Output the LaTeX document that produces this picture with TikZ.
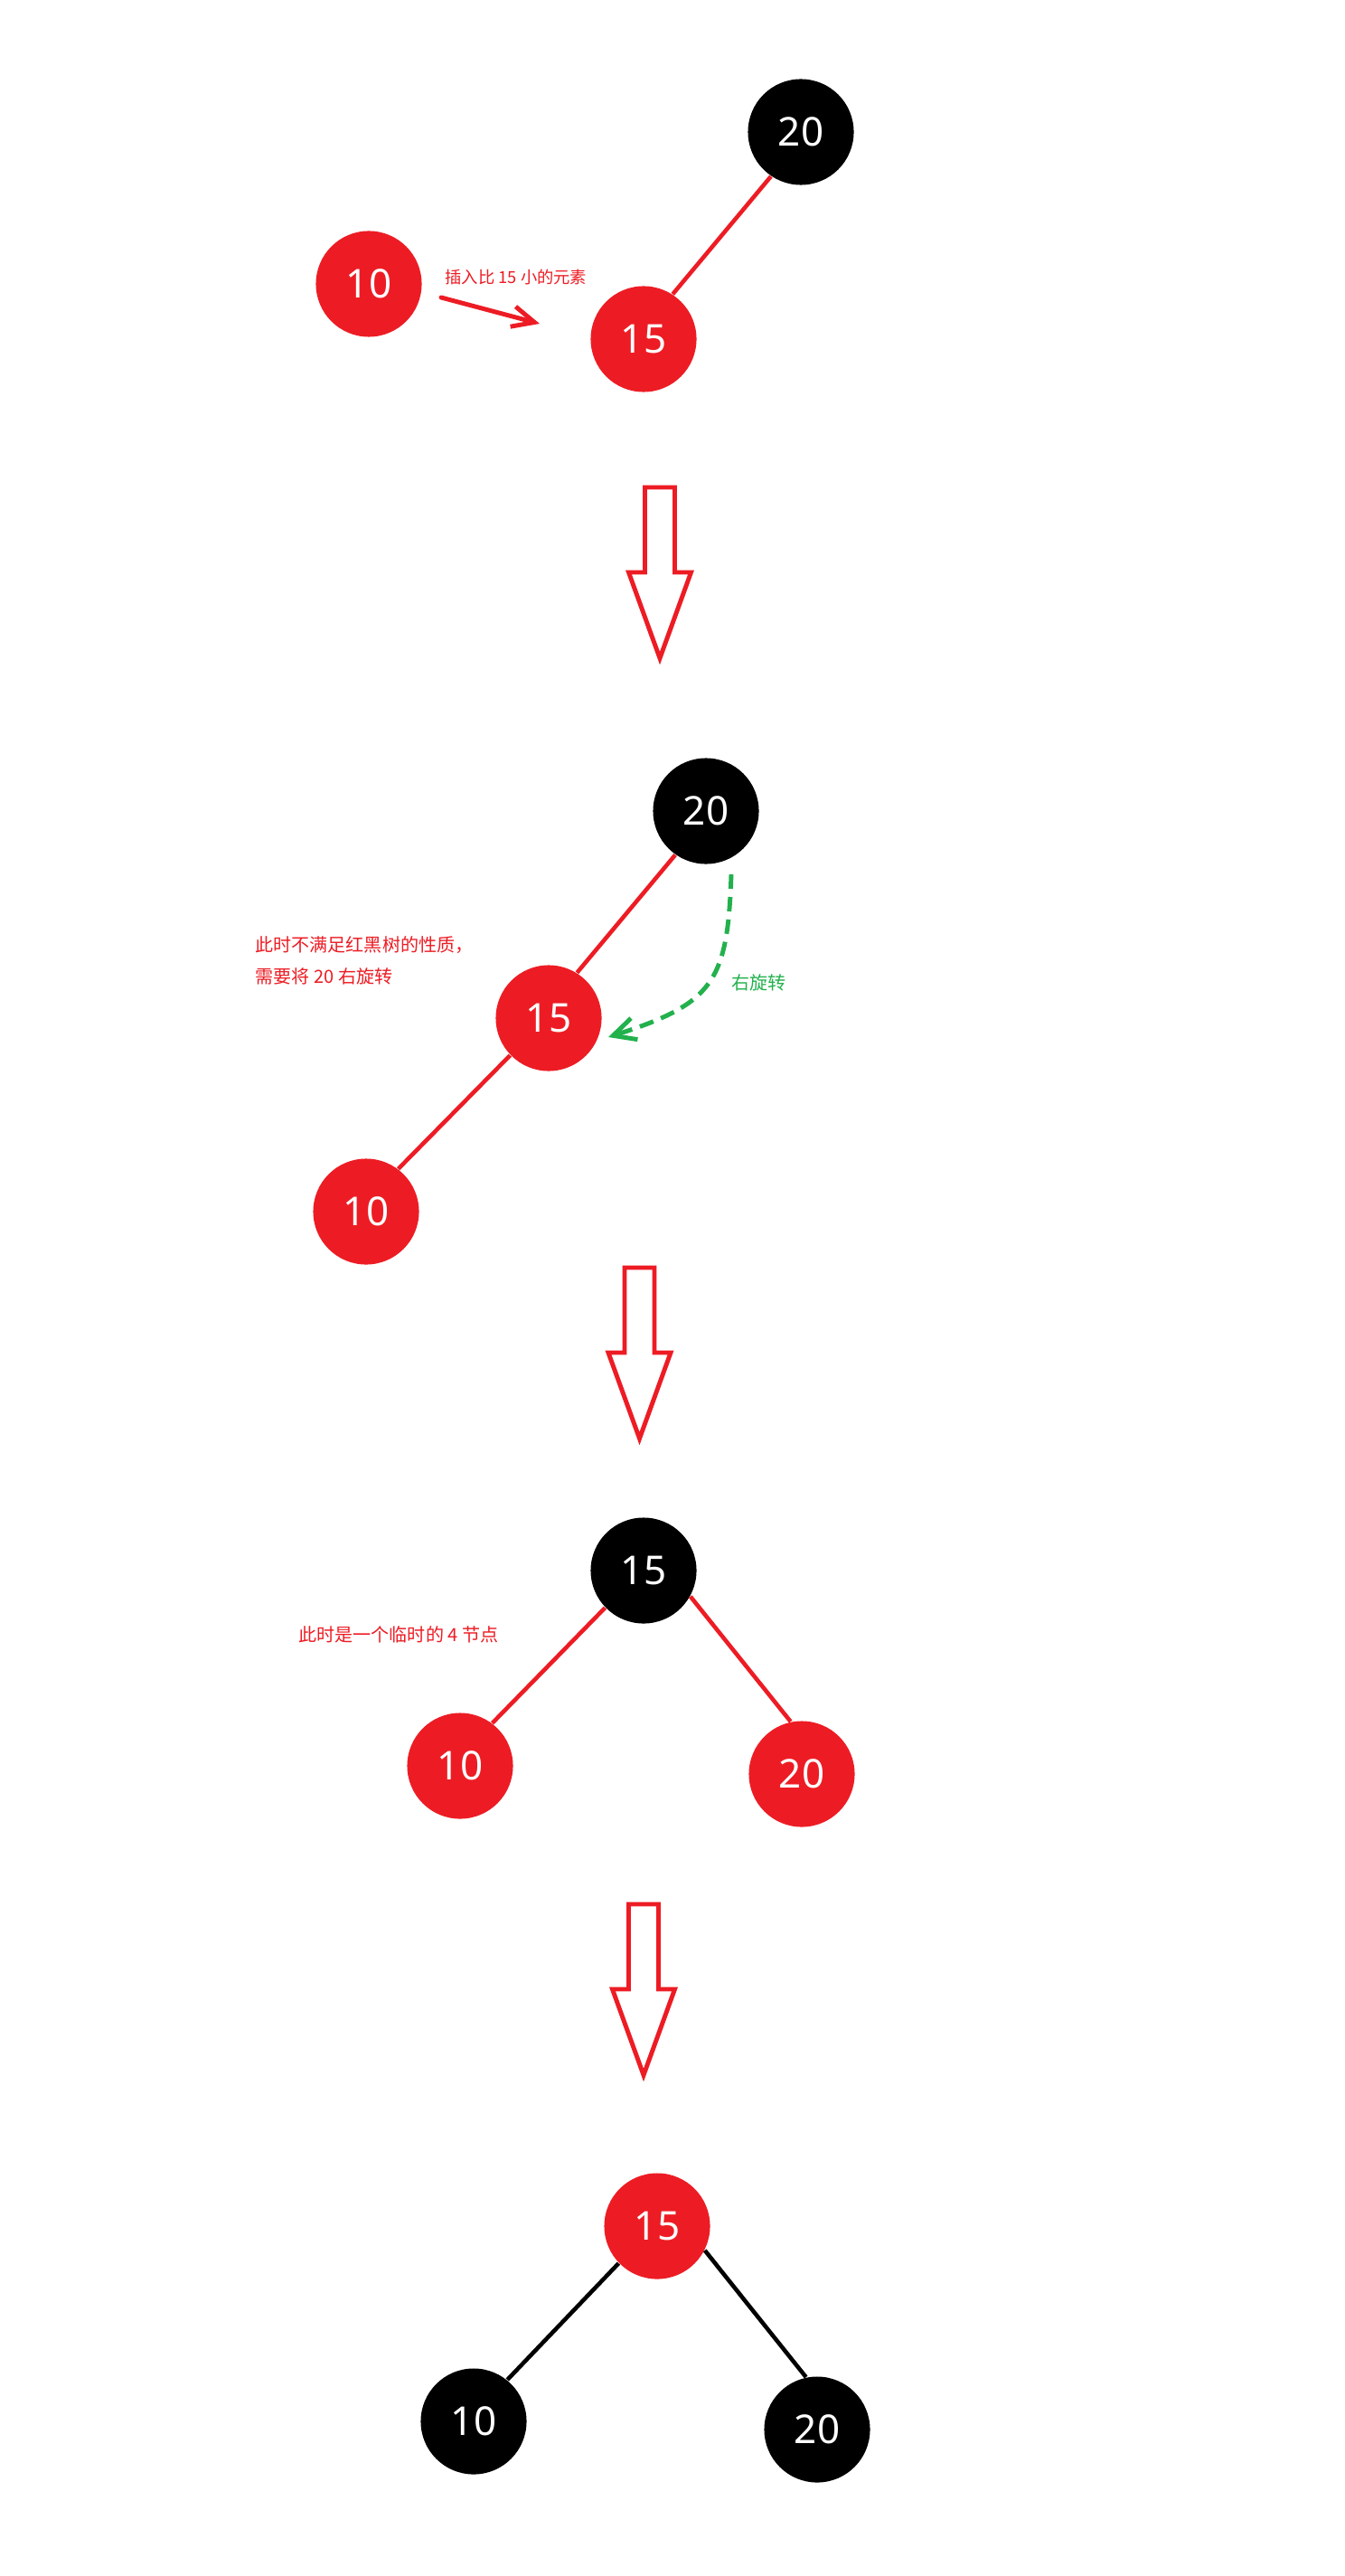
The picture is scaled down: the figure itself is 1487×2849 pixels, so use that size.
\documentclass[tikz,border=0pt]{standalone}
\usepackage{fontspec}
\setmainfont{Noto Sans}
\newfontfamily\cjk{Noto Sans CJK SC}
\usetikzlibrary{arrows.meta}
\definecolor{pred}{RGB}{237,28,36}
\definecolor{pgreen}{RGB}{34,177,76}
\tikzset{
  tnode/.style={circle, inner sep=0pt, minimum size=1.17cm, text=white,
    font=\fontsize{12.5pt}{14pt}\selectfont},
  rednode/.style={tnode, fill=pred},
  blacknode/.style={tnode, fill=black},
  rededge/.style={draw=pred, line width=1.3pt},
  blackedge/.style={draw=black, line width=1.3pt},
  notetext/.style={anchor=west, inner sep=0pt, text=pred, font=\fontsize{5.7pt}{7pt}\cjk},
  hollow/.pic={
    \draw[pred, line width=1.4pt, line join=miter]
      (-16.5,0) -- (16.5,0) -- (16.5,94) -- (34.5,94) -- (0,189)
      -- (-34.5,94) -- (-16.5,94) -- cycle;
  }
}
\begin{document}
\begin{tikzpicture}[x=0.01cm,y=-0.01cm]
\fill[white] (0,0) rectangle (1487,2849);
\useasboundingbox (0,0) rectangle (1487,2849);

% Panel 1
\node[blacknode] (a20) at (886,146) {20};
\node[rednode] (a10) at (408,314) {10};
\node[rednode] (a15) at (712,375) {15};
\draw[rededge] (a20.236) -- (a15.57);
\coordinate (ins1) at (488,329);
\coordinate (ins2) at (597,358);
\draw[draw=pred, line width=1.4pt, line cap=round, -{Straight Barb[length=7pt,width=6.5pt]}] (ins1) -- (ins2);
\node[notetext, font=\fontsize{5.2pt}{6pt}\cjk] (t1) at (492,307) {插入比 15 小的元素};

\pic at (730,539) {hollow};

% Panel 2
\node[blacknode] (b20) at (781,897) {20};
\node[rednode] (b15) at (607,1126) {15};
\node[rednode] (b10) at (405,1340) {10};
\draw[rededge] (b20.235) -- (b15.58);
\draw[rededge] (b15.224) -- (b10.53);
\node[notetext] (t2a) at (282,1045) {此时不满足红黑树的性质，};
\node[notetext] (t2b) at (282,1080) {需要将 20 右旋转};
\coordinate (g1) at (809,967);
\coordinate (g2) at (673,1147);
\draw[draw=pgreen, line width=1.4pt, dash pattern=on 0.16cm off 0.09cm,
  -{Straight Barb[length=7pt,width=7pt]}]
  (g1) .. controls (805,1085) and (790,1110) .. (g2);
\node[notetext, text=pgreen] (t2c) at (809,1087) {右旋转};

\pic at (707.5,1402) {hollow};

% Panel 3
\node[blacknode] (c15) at (712,1737) {15};
\node[rednode] (c10) at (509,1953) {10};
\node[rednode] (c20) at (887,1962) {20};
\draw[rededge] (c15.224) -- (c10.53);
\draw[rededge] (c15.-29) -- (c20.102);
\node[notetext] (t3) at (330,1808) {此时是一个临时的 4 节点};

\pic at (712,2106) {hollow};

% Panel 4
\node[rednode] (d15) at (727,2462) {15};
\node[blacknode] (d10) at (524,2678) {10};
\node[blacknode] (d20) at (904,2687) {20};
\draw[blackedge] (d15.224) -- (d10.51);
\draw[blackedge] (d15.-27) -- (d20.102);
\end{tikzpicture}
\end{document}
